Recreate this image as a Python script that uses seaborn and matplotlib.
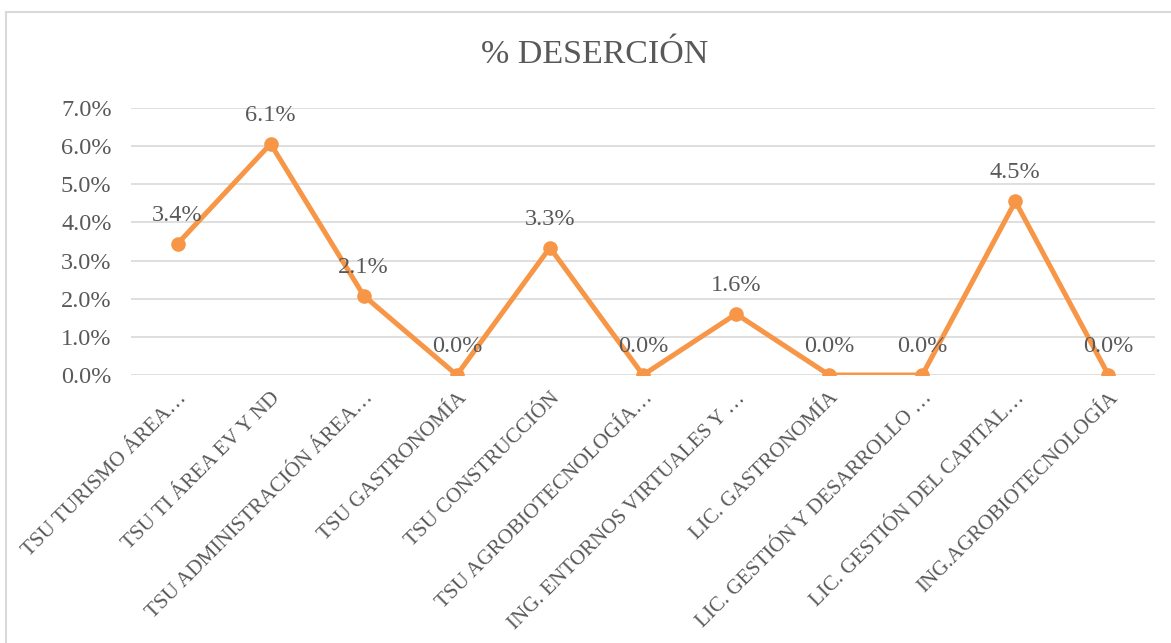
import matplotlib
matplotlib.use("Agg")
import matplotlib.pyplot as plt
import seaborn as sns
import pandas as pd
from matplotlib.ticker import PercentFormatter
from matplotlib.lines import Line2D

carreras = [
    "TSU TURISMO ÁREA…",
    "TSU TI ÁREA EV Y ND",
    "TSU ADMINISTRACIÓN ÁREA…",
    "TSU GASTRONOMÍA",
    "TSU CONSTRUCCIÓN",
    "TSU AGROBIOTECNOLOGÍA…",
    "ING. ENTORNOS VIRTUALES Y …",
    "LIC. GASTRONOMÍA",
    "LIC. GESTIÓN Y DESARROLLO …",
    "LIC. GESTIÓN DEL CAPITAL…",
    "ING.AGROBIOTECNOLOGÍA",
]
desercion = [3.44, 6.06, 2.08, 0.0, 3.34, 0.0, 1.60, 0.0, 0.0, 4.55, 0.0]

df = pd.DataFrame({"carrera": carreras, "desercion": desercion})

sns.set_style("white")
plt.rcParams["font.family"] = ["Liberation Serif", "DejaVu Serif"]
GRIS = "#595959"
NARANJA = "#F79646"

fig = plt.figure(figsize=(11.71, 6.43), dpi=100)
ax = fig.add_axes([131 / 1171, 1 - 375 / 643, (1155 - 131) / 1171, (375 - 108) / 643])

sns.lineplot(data=df, x="carrera", y="desercion", ax=ax, color=NARANJA,
             linewidth=3.6, marker="o", markersize=10.5, markeredgewidth=0,
             sort=False)

ax.set_xlim(-0.5, len(carreras) - 0.5)
ax.set_ylim(0, 7)
ax.set_yticks(range(0, 8))
ax.yaxis.set_major_formatter(PercentFormatter(decimals=1))
ax.grid(axis="y", color="#D9D9D9", linewidth=1.2)
ax.set_axisbelow(True)
for s in ax.spines.values():
    s.set_visible(False)
ax.set_xlabel("")
ax.set_ylabel("")
ax.tick_params(axis="y", labelsize=17.5, colors=GRIS, pad=14, length=0)
ax.tick_params(axis="x", labelsize=15.2, colors=GRIS, pad=10, length=0)
plt.setp(ax.get_xticklabels(), rotation=45, ha="right", rotation_mode="anchor")
for lab in ax.get_xticklabels():
    lab.set_x(lab.get_position()[0] + 0.08)

for i, v in enumerate(desercion):
    ax.annotate(f"{v:.1f}%", (i, v), xytext=(0, 13), textcoords="offset points",
                ha="center", va="bottom", fontsize=17.5, color=GRIS)

fig.text(595 / 1171, 1 - 55 / 643, "% DESERCIÓN", ha="center", va="center",
         fontsize=24.5, color=GRIS)

# borde del área del gráfico
fig.add_artist(Line2D([6 / 1171, 6 / 1171], [0, 1 - 12 / 643], transform=fig.transFigure,
                      color="#D9D9D9", linewidth=1.5))
fig.add_artist(Line2D([6 / 1171, 1], [1 - 12 / 643, 1 - 12 / 643], transform=fig.transFigure,
                      color="#D9D9D9", linewidth=1.5))

fig.savefig("out.png", dpi=100)
